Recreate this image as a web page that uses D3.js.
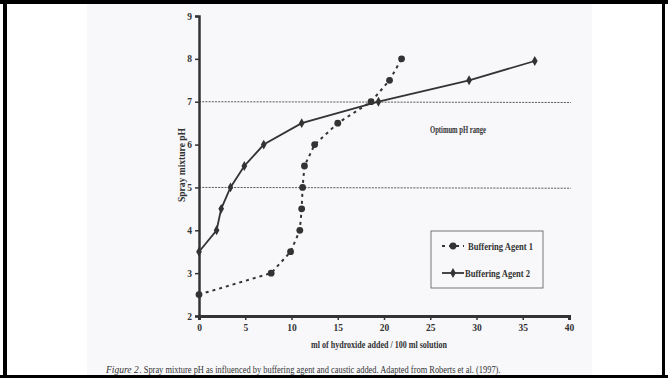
<!DOCTYPE html>
<html><head><meta charset="utf-8">
<script src="https://cdn.jsdelivr.net/npm/d3@7"></script>
<style>html,body{margin:0;padding:0;background:#fff;}svg{display:block;}</style>
</head><body>
<svg id="c" width="668" height="378"></svg>
<script>
// Data
const agent1X = [0, 7.8, 9.9, 10.9, 11.1, 11.2, 11.4, 12.5, 15.0, 18.6, 20.6, 21.9];
const agent1Y = [2.5, 3, 3.5, 4, 4.5, 5, 5.5, 6, 6.5, 7, 7.5, 8];
const agent2X = [0, 1.9, 2.4, 3.4, 4.9, 7.0, 11.1, 19.4, 29.2, 36.3];
const agent2Y = [3.5, 4, 4.5, 5, 5.5, 6, 6.5, 7, 7.5, 7.95];
const xTicks = [0, 5, 10, 15, 20, 25, 30, 35, 40];
const yTicks = [2, 3, 4, 5, 6, 7, 8, 9];
const optimumBounds = [5, 7];
const seriesNames = ["Buffering Agent 1", "Buffering Agent 2"];

const svg = d3.select("#c");
const serif = "'Liberation Serif','Times New Roman',serif";
const ink = "#333";

// scanned page tint
svg.append("rect").attr("x", 87).attr("y", 0).attr("width", 505).attr("height", 378).attr("fill", "#f8f8fa");

const x = d3.scaleLinear().domain([0, 40]).range([199, 569]);
const y = d3.scaleLinear().domain([2, 9]).range([316, 16]);

// optimum range lines
svg.selectAll("line.opt").data(optimumBounds).join("line")
  .attr("x1", x(0)).attr("x2", x(40.2))
  .attr("y1", d => y(d)).attr("y2", d => y(d) + 0.8)
  .attr("stroke", "#444").attr("stroke-width", 0.9).attr("stroke-dasharray", "2,1.2");

// axes
const xAxis = d3.axisBottom(x).tickValues(xTicks).tickSize(4).tickPadding(4).tickFormat(d3.format("d"));
const gx = svg.append("g").attr("transform", `translate(0,${y(2)})`).call(xAxis);
gx.select(".domain").attr("stroke", ink).attr("stroke-width", 3);
gx.selectAll(".tick line").attr("stroke", ink).attr("stroke-width", 1.5);
gx.selectAll(".tick text").attr("font-family", serif).attr("font-weight", "bold").attr("font-size", 9.5).attr("fill", "#333");

const yAxis = d3.axisLeft(y).tickValues(yTicks).tickSize(4).tickPadding(3).tickFormat(d3.format("d"));
const gy = svg.append("g").attr("transform", `translate(${x(0)},0)`).call(yAxis);
gy.select(".domain").attr("stroke", ink).attr("stroke-width", 2.5);
gy.selectAll(".tick line").attr("stroke", ink).attr("stroke-width", 1.5);
gy.selectAll(".tick text").attr("font-family", serif).attr("font-weight", "bold").attr("font-size", 9.5).attr("fill", "#333");

// series
const a1 = agent1X.map((v, i) => [v, agent1Y[i]]);
const a2 = agent2X.map((v, i) => [v, agent2Y[i]]);
const line = d3.line().x(d => x(d[0])).y(d => y(d[1]));

svg.append("path").attr("d", line(a1)).attr("fill", "none").attr("stroke", ink)
  .attr("stroke-width", 2).attr("stroke-dasharray", "3,4");
svg.selectAll("circle.a1").data(a1).join("circle")
  .attr("cx", d => x(d[0])).attr("cy", d => y(d[1])).attr("r", 3.4).attr("fill", ink);

svg.append("path").attr("d", line(a2)).attr("fill", "none").attr("stroke", ink).attr("stroke-width", 1.8);
const diamond = d3.symbol().type(d3.symbolDiamond).size(28);
svg.selectAll("path.a2").data(a2).join("path")
  .attr("transform", d => `translate(${x(d[0])},${y(d[1])})`).attr("d", diamond).attr("fill", ink);

// labels
svg.append("text").attr("x", 458).attr("y", 133).attr("text-anchor", "middle")
  .attr("font-family", serif).attr("font-weight", "bold").attr("font-size", 9.5).attr("fill", "#333")
  .attr("textLength", 56).attr("lengthAdjust", "spacingAndGlyphs").text("Optimum pH range");

svg.append("text").attr("x", 379).attr("y", 348).attr("text-anchor", "middle")
  .attr("font-family", serif).attr("font-weight", "bold").attr("font-size", 9.5).attr("fill", "#333")
  .attr("textLength", 136).attr("lengthAdjust", "spacingAndGlyphs").text("ml of hydroxide added / 100 ml solution");

svg.append("text").attr("transform", "translate(185,165) rotate(-90)").attr("text-anchor", "middle")
  .attr("font-family", serif).attr("font-weight", "bold").attr("font-size", 9.5).attr("fill", "#333")
  .attr("textLength", 74).attr("lengthAdjust", "spacingAndGlyphs").text("Spray mixture pH");

// legend
svg.append("rect").attr("x", 431).attr("y", 231).attr("width", 112).attr("height", 57)
  .attr("fill", "none").attr("stroke", "#555").attr("stroke-width", 0.8);
const lg = [{y: 246, name: seriesNames[0], dashed: true}, {y: 273, name: seriesNames[1], dashed: false}];
lg.forEach(e => {
  if (e.dashed) {
    svg.append("line").attr("x1", 442).attr("x2", 464).attr("y1", e.y).attr("y2", e.y)
      .attr("stroke", ink).attr("stroke-width", 2).attr("stroke-dasharray", "3,4");
    svg.append("circle").attr("cx", 453).attr("cy", e.y).attr("r", 3.4).attr("fill", ink);
  } else {
    svg.append("line").attr("x1", 442).attr("x2", 464).attr("y1", e.y).attr("y2", e.y)
      .attr("stroke", ink).attr("stroke-width", 1.8);
    svg.append("path").attr("transform", `translate(453,${e.y})`).attr("d", diamond).attr("fill", ink);
  }
  svg.append("text").attr("x", e.dashed ? 468 : 465).attr("y", e.y + 3.5)
    .attr("font-family", serif).attr("font-weight", "bold").attr("font-size", 10).attr("fill", "#333")
    .attr("textLength", 65).attr("lengthAdjust", "spacingAndGlyphs").text(e.name);
});

// caption
svg.append("text").attr("x", 106).attr("y", 373)
  .attr("font-family", serif).attr("font-size", 9.5).attr("font-style", "italic").attr("fill", "#333")
  .text("Figure 2");
svg.append("text").attr("x", 139.5).attr("y", 373)
  .attr("font-family", serif).attr("font-size", 9.5).attr("fill", "#333")
  .attr("textLength", 361).attr("lengthAdjust", "spacingAndGlyphs")
  .text(". Spray mixture pH as influenced by buffering agent and caustic added. Adapted from Roberts et al. (1997).");

// frame
svg.append("rect").attr("x", 0).attr("y", 0).attr("width", 668).attr("height", 4).attr("fill", "#000");
svg.append("rect").attr("x", 0).attr("y", 375).attr("width", 668).attr("height", 3).attr("fill", "#000");
svg.append("rect").attr("x", 3).attr("y", 0).attr("width", 4).attr("height", 378).attr("fill", "#000");
svg.append("rect").attr("x", 662).attr("y", 0).attr("width", 3).attr("height", 378).attr("fill", "#000");
</script>
</body></html>
